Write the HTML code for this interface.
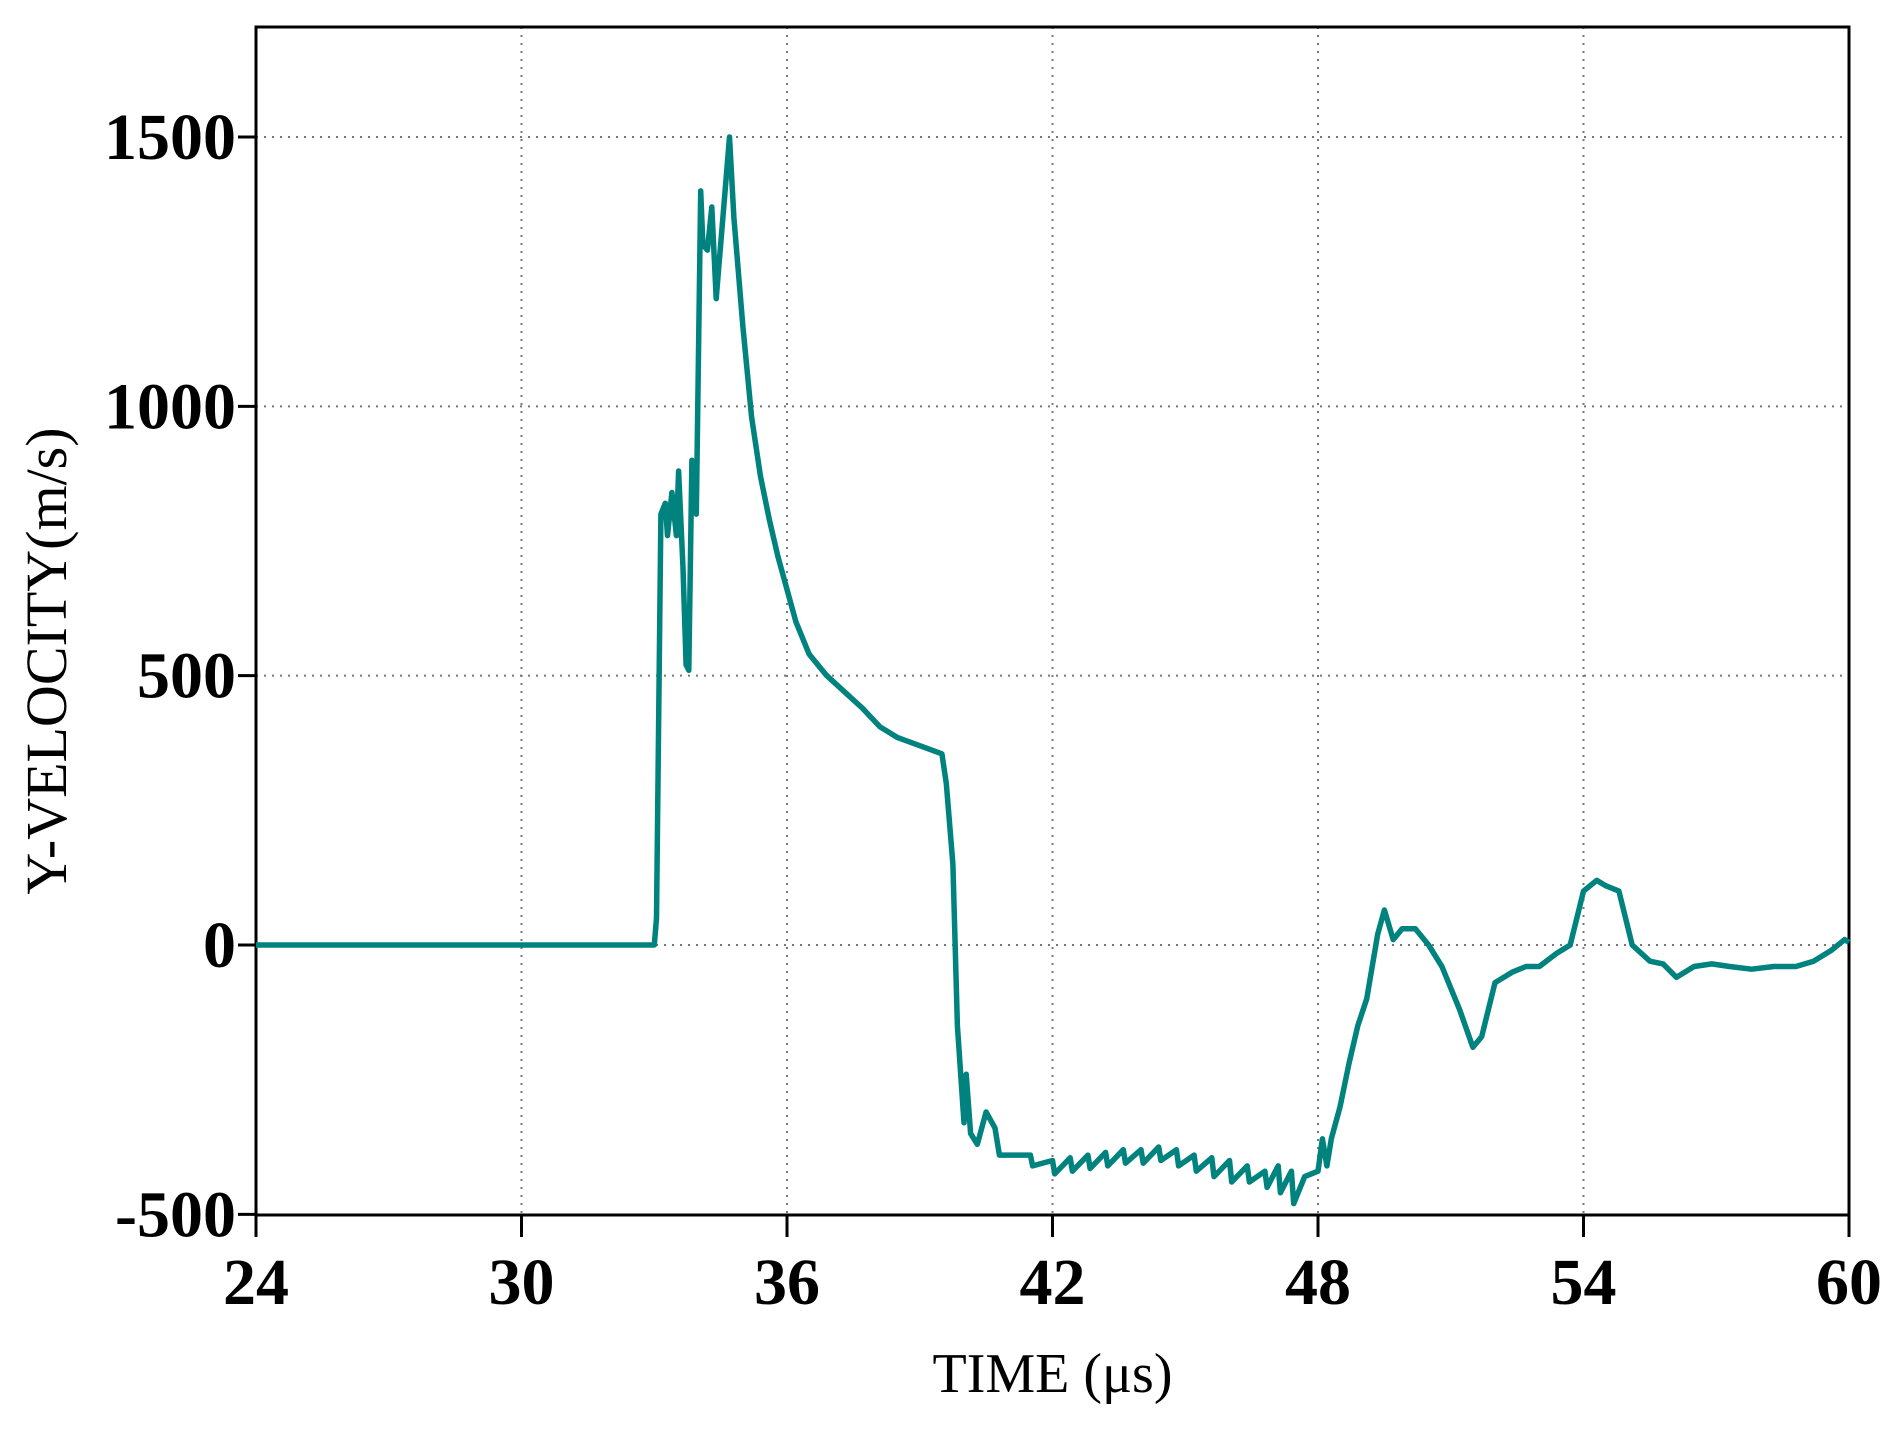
<!DOCTYPE html>
<html><head><meta charset="utf-8"><style>body{margin:0;background:#fff}</style></head>
<body>
<svg id="chart" width="1895" height="1427" xmlns="http://www.w3.org/2000/svg" font-family="Liberation Serif, serif"></svg>
<script>
const xTicks=[24,30,36,42,48,54,60];
const yTicks=[-500,0,500,1000,1500];
const times=[24,33.0,33.05,33.15,33.25,33.3,33.4,33.5,33.55,33.65,33.72,33.78,33.85,33.95,34.05,34.1,34.2,34.3,34.4,34.45,34.6,34.7,34.8,35.0,35.2,35.4,35.6,35.8,36.0,36.2,36.5,36.9,37.3,37.7,38.1,38.5,39.0,39.5,39.6,39.75,39.85,40.0,40.05,40.15,40.3,40.5,40.7,40.8,41.5,41.55,42.0,42.05,42.4,42.45,42.8,42.85,43.2,43.25,43.6,43.65,44.0,44.05,44.4,44.45,44.8,44.85,45.2,45.25,45.6,45.65,46.0,46.05,46.4,46.45,46.8,46.85,47.1,47.15,47.4,47.45,47.7,48.0,48.1,48.2,48.3,48.5,48.7,48.9,49.1,49.35,49.5,49.7,49.9,50.2,50.5,50.8,51.2,51.5,51.7,52.0,52.4,52.7,53.0,53.4,53.7,54.0,54.15,54.3,54.5,54.8,55.1,55.5,55.8,56.1,56.5,56.9,57.3,57.8,58.3,58.8,59.2,59.6,59.9,60];
const velocity=[0,0,50,800,820,760,840,760,880,700,520,510,900,800,1400,1300,1290,1370,1200,1250,1400,1500,1350,1150,980,870,790,720,660,600,540,500,470,440,405,385,370,355,300,150,-150,-330,-240,-350,-370,-310,-340,-390,-390,-410,-400,-425,-395,-420,-390,-415,-385,-410,-380,-405,-380,-405,-375,-400,-380,-410,-390,-420,-395,-430,-400,-440,-410,-440,-420,-450,-410,-460,-420,-480,-430,-420,-360,-410,-360,-300,-220,-150,-100,20,65,10,30,30,0,-40,-120,-190,-170,-70,-50,-40,-40,-15,0,100,110,120,110,100,0,-30,-35,-60,-40,-35,-40,-45,-40,-40,-30,-10,10,5];
const L=256,R=1849,T=27,B=1215;
const xs=t=>L+(t-24)/36*(R-L);
const ys=v=>945-(v)*(945-137)/1500;
const svg=document.getElementById('chart');const NS='http://www.w3.org/2000/svg';
function mk(tag,attrs,parent){const e=document.createElementNS(NS,tag);for(const k in attrs)e.setAttribute(k,attrs[k]);(parent||svg).appendChild(e);return e;}
xTicks.forEach(t=>{
 if(t>24&&t<60){const g=mk('line',{x1:xs(t),x2:xs(t),y1:T,y2:B,stroke:'#777','stroke-width':2,'stroke-dasharray':'2,6'});}
 const k=mk('line',{x1:xs(t),x2:xs(t),y1:B,y2:B+22,stroke:'#000','stroke-width':3});
 const l=mk('text',{x:xs(t),y:1304,'text-anchor':'middle','font-size':66,'font-weight':'bold'});l.textContent=t;
});
yTicks.forEach(v=>{
 if(v>-500){const g=mk('line',{x1:L,x2:R,y1:ys(v),y2:ys(v),stroke:'#777','stroke-width':2,'stroke-dasharray':'2,6'});}
 const k=mk('line',{x1:L-18,x2:L,y1:ys(v),y2:ys(v),stroke:'#000','stroke-width':3});
 const l=mk('text',{x:236,y:ys(v)+22,'text-anchor':'end','font-size':66,'font-weight':'bold'});l.textContent=v;
});
const fr=mk('rect',{x:L,y:T,width:R-L,height:B-T,fill:'none',stroke:'#000','stroke-width':3});

const p=mk('path',{d:times.map((t,i)=>(i?'L':'M')+xs(t).toFixed(1)+','+ys(velocity[i]).toFixed(1)).join(''),fill:'none',stroke:'#00827f','stroke-width':5.5,'stroke-linejoin':'round'});

const xt=mk('text',{x:(L+R)/2,y:1392,'text-anchor':'middle','font-size':56});xt.textContent='TIME (μs)';

const yt=mk('text',{x:0,y:0,'text-anchor':'middle','font-size':58,transform:'translate(66,'+((T+B)/2+40)+') rotate(-90)'});yt.textContent='Y-VELOCITY(m/s)';

</script>
</body></html>
